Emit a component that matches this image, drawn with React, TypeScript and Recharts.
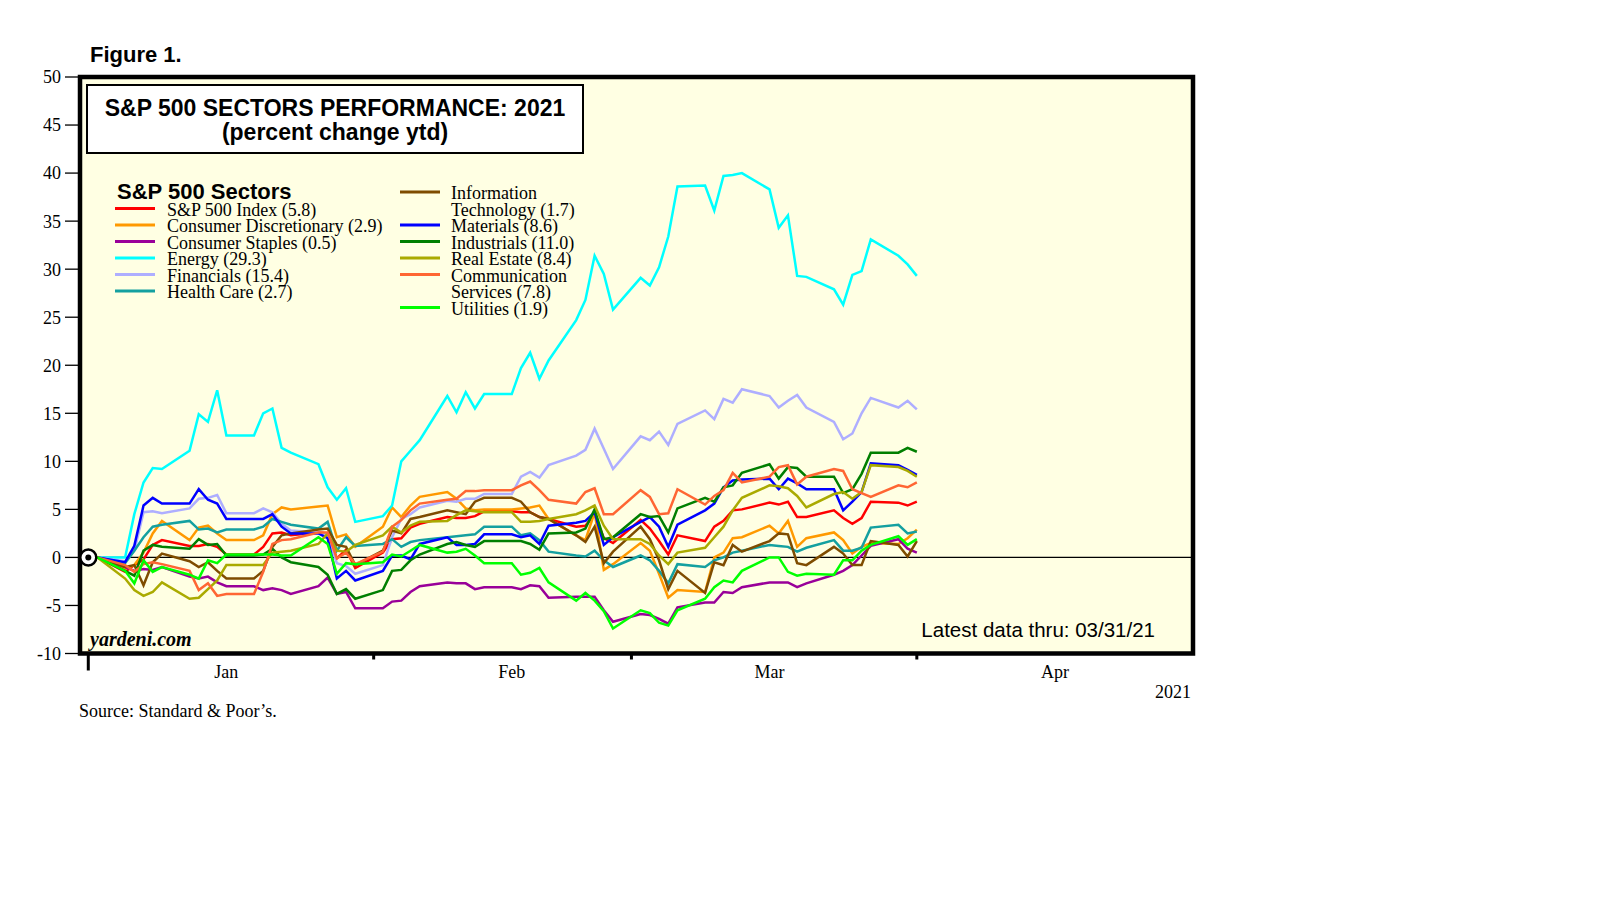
import { LineChart, Line, XAxis, YAxis, CartesianGrid, ReferenceLine, ReferenceArea } from "recharts";

const SERIF = "'Liberation Serif', 'Times New Roman', serif";
const SANS = "'Liberation Sans', Arial, sans-serif";

// days since Dec 31, 2020 (weekdays; holidays carry the prior close)
const days = [0, 1, 4, 5, 6, 7, 8, 11, 12, 13, 14, 15, 18, 19, 20, 21, 22, 25, 26, 27, 28, 29,
  32, 33, 34, 35, 36, 39, 40, 41, 42, 43, 46, 47, 48, 49, 50, 53, 54, 55, 56, 57,
  60, 61, 62, 63, 64, 67, 68, 69, 70, 71, 74, 75, 76, 77, 78, 81, 82, 83, 84, 85, 88, 89, 90];

const sp500 = [0, 0, -1.5, -0.8, -0.2, 1.3, 1.8, 1.2, 1.2, 1.4, 1.1, 0.3, 0.3, 1.1, 2.5, 2.6, 2.3, 2.6, 2.5, -0.1, 0.8, -1.1,
  0.5, 1.9, 2.0, 3.1, 3.5, 4.2, 4.1, 4.1, 4.3, 4.8, 4.8, 4.7, 4.7, 4.2, 4.0, 3.2, 3.3, 4.5, 2.0, 1.5,
  3.9, 3.0, 1.7, 0.3, 2.3, 1.7, 3.2, 3.8, 4.9, 5.0, 5.7, 5.5, 5.8, 4.2, 4.2, 4.9, 4.1, 3.5, 4.1, 5.8, 5.7, 5.4, 5.8];
const consDisc = [0, 0, -1.2, -0.8, 0.5, 2.5, 3.8, 1.8, 3.1, 3.3, 2.5, 1.8, 1.8, 2.3, 4.5, 5.2, 5.0, 5.3, 5.4, 2.1, 2.4, 1.1,
  3.2, 5.2, 4.2, 5.4, 6.3, 6.8, 6.1, 5.1, 4.9, 5.0, 5.0, 5.1, 5.2, 5.4, 4.0, 2.3, 1.8, 4.7, -1.3, -0.7,
  1.5, 0.7, -1.7, -4.2, -3.4, -3.6, 0.0, 0.5, 2.0, 2.1, 3.3, 2.5, 3.8, 1.1, 2.0, 2.6, 1.8, 0.4, 1.1, 1.5, 1.4, 2.0, 2.9];
const consStaples = [0, 0, -1.0, -1.4, -1.2, -1.3, -1.0, -2.0, -2.2, -2.0, -2.6, -3.0, -3.0, -3.4, -3.2, -3.4, -3.8, -3.0, -2.1, -3.8, -3.6, -5.3,
  -5.3, -4.6, -4.5, -3.6, -3.0, -2.6, -2.7, -2.7, -3.3, -3.1, -3.1, -3.3, -2.9, -3.0, -4.2, -4.1, -4.1, -4.1, -5.5, -6.7,
  -5.9, -6.0, -6.4, -6.9, -5.2, -4.7, -4.7, -3.6, -3.7, -3.1, -2.6, -2.6, -2.6, -3.1, -2.7, -1.8, -1.4, -0.8, 0.2, 1.2, 1.9, 0.9, 0.5];
const energy = [0, 0, 0, 4.5, 7.8, 9.3, 9.2, 11.1, 14.9, 14.1, 17.4, 12.7, 12.7, 15.0, 15.5, 11.4, 10.9, 9.7, 7.3, 6.0, 7.2, 3.7,
  4.3, 5.4, 10.0, 11.1, 12.2, 16.8, 15.1, 17.2, 15.5, 17.0, 17.0, 19.7, 21.3, 18.6, 20.5, 24.7, 26.8, 31.4, 29.5, 25.8,
  29.1, 28.3, 30.2, 33.4, 38.6, 38.7, 36.1, 39.7, 39.8, 40.0, 38.3, 34.3, 35.6, 29.3, 29.2, 27.9, 26.3, 29.4, 29.8, 33.1, 31.4, 30.5, 29.3];
const financials = [0, 0, -0.4, 0.7, 4.7, 4.8, 4.6, 5.1, 6.1, 6.2, 6.5, 4.6, 4.6, 5.1, 4.7, 3.5, 2.8, 2.6, 2.4, -0.6, -0.9, -1.7,
  -0.8, 2.1, 4.0, 4.5, 5.2, 5.9, 5.8, 6.1, 6.1, 6.6, 6.6, 8.4, 8.9, 8.3, 9.6, 10.6, 11.2, 13.4, 11.3, 9.2,
  12.6, 12.2, 13.1, 11.7, 13.9, 15.3, 14.4, 16.5, 16.1, 17.5, 16.8, 15.6, 16.3, 16.9, 15.6, 14.1, 12.3, 12.9, 15.0, 16.6, 15.6, 16.3, 15.4];
const healthCare = [0, 0, -0.6, 0.7, 2.1, 3.2, 3.4, 3.8, 2.9, 3.0, 2.6, 2.9, 2.9, 3.2, 4.0, 3.7, 3.4, 3.0, 3.7, 0.7, 2.1, 1.2,
  1.4, 1.9, 1.1, 1.6, 1.8, 2.1, 2.2, 2.3, 2.4, 3.2, 3.2, 2.3, 2.5, 1.8, 0.6, 0.2, 0.1, 0.7, -0.3, -1.0,
  0.2, -0.3, -1.4, -2.7, -0.7, -1.0, -0.3, 0.0, 0.5, 0.7, 1.3, 1.2, 1.1, 0.6, 1.0, 1.8, 0.7, 0.7, 1.0, 3.1, 3.4, 2.5, 2.7];
const infoTech = [0, 0, -1.0, -0.8, -2.9, -0.5, 0.4, -0.4, -1.0, -0.5, -1.4, -2.2, -2.2, -1.4, 1.1, 2.3, 2.5, 2.9, 3.0, 1.3, 1.1, -0.8,
  0.7, 2.8, 2.5, 4.0, 4.2, 4.9, 4.7, 4.5, 5.8, 6.2, 6.2, 5.8, 4.7, 4.2, 4.0, 2.3, 1.6, 3.2, -0.6, 0.6,
  3.2, 1.9, -0.3, -3.3, -1.4, -3.7, -0.5, -0.8, 1.3, 0.6, 1.7, 2.5, 2.4, -0.6, -0.8, 1.1, 0.4, -0.8, -0.8, 1.7, 1.3, 0.1, 1.7];
const materials = [0, 0, -0.5, 1.2, 5.4, 6.2, 5.6, 5.6, 7.1, 6.0, 5.6, 4.0, 4.0, 4.0, 4.5, 3.2, 2.5, 2.5, 2.0, -2.2, -1.4, -2.4,
  -1.4, 0.2, 0.2, -0.2, 1.4, 2.1, 1.3, 1.3, 1.4, 2.4, 2.4, 2.1, 2.3, 1.4, 3.3, 3.6, 3.8, 4.7, 1.3, 2.1,
  3.7, 4.2, 3.2, 1.1, 3.4, 4.9, 5.6, 7.3, 8.0, 8.1, 8.2, 7.1, 8.2, 7.7, 7.1, 7.1, 4.9, 5.8, 6.8, 9.8, 9.6, 9.1, 8.6];
const industrials = [0, 0, -1.4, -1.9, 0.7, 1.3, 1.1, 0.9, 1.9, 1.3, 1.4, 0.2, 0.2, 0.3, 0.9, 0.0, -0.5, -1.0, -1.8, -3.8, -3.3, -4.3,
  -3.4, -1.4, -1.3, -0.3, 0.3, 1.4, 1.6, 1.3, 1.1, 1.7, 1.7, 1.7, 1.4, 0.8, 2.5, 2.6, 3.0, 5.0, 1.9, 2.1,
  4.5, 4.2, 4.3, 2.6, 5.1, 6.2, 5.8, 7.3, 7.5, 8.8, 9.7, 8.2, 9.4, 9.3, 8.4, 8.4, 6.7, 7.1, 8.7, 10.9, 10.9, 11.4, 11.0];
const realEstate = [0, 0, -2.2, -3.4, -4.0, -3.6, -2.6, -4.3, -4.2, -3.3, -2.4, -0.8, -0.8, -0.8, 0.5, 0.6, 0.7, 1.4, 2.5, 0.7, 0.6, 1.3,
  2.3, 3.2, 2.6, 3.3, 3.7, 3.8, 4.4, 4.9, 4.8, 4.7, 4.7, 3.7, 3.7, 3.8, 4.0, 4.5, 4.9, 5.4, 3.3, 1.9,
  1.9, 1.4, 0.2, -0.7, 0.5, 1.0, 2.1, 3.2, 4.9, 6.2, 7.5, 7.4, 7.2, 6.4, 5.2, 6.6, 6.8, 6.1, 6.8, 9.6, 9.4, 9.0, 8.4];
const commServices = [0, 0, -0.8, -1.5, -0.7, -0.5, -0.7, -1.4, -3.4, -2.7, -4.0, -3.8, -3.8, -1.5, 1.4, 1.8, 1.9, 2.6, 2.6, -0.1, 0.5, -0.7,
  0.6, 3.2, 3.9, 4.9, 5.6, 6.0, 6.1, 6.9, 6.9, 7.0, 7.0, 7.5, 7.9, 7.0, 6.0, 5.6, 6.8, 7.2, 4.5, 4.5,
  7.0, 6.3, 4.5, 4.6, 7.1, 5.5, 6.4, 7.0, 8.8, 7.8, 8.4, 9.4, 9.6, 7.6, 8.4, 9.2, 9.0, 7.1, 6.7, 6.3, 7.5, 7.3, 7.8];
const utilities = [0, 0, -1.4, -2.7, -0.3, -1.5, -1.0, -1.8, -2.2, -0.3, -0.6, 0.3, 0.3, 0.3, 0.3, 0.2, 0.2, 2.1, 1.4, -1.7, -0.6, -0.7,
  -0.5, 0.3, 0.1, 0.7, 1.3, 0.5, 0.6, 0.9, 0.2, -0.6, -0.6, -1.8, -1.6, -1.1, -2.6, -4.5, -3.7, -4.5, -5.6, -7.4,
  -5.5, -5.8, -6.8, -7.1, -5.5, -4.3, -3.1, -2.4, -2.6, -1.4, 0.0, 0.0, -1.5, -1.9, -1.7, -1.8, -0.3, -0.3, 0.7, 1.3, 2.2, 1.3, 1.9];

const sectors = [
  { key: "sp500", name: "S&P 500 Index", color: "#FF0000", values: sp500 },
  { key: "consDisc", name: "Consumer Discretionary", color: "#FF9900", values: consDisc },
  { key: "consStaples", name: "Consumer Staples", color: "#990099", values: consStaples },
  { key: "energy", name: "Energy", color: "#00FFFF", values: energy },
  { key: "financials", name: "Financials", color: "#AEAEFF", values: financials },
  { key: "healthCare", name: "Health Care", color: "#14A0A0", values: healthCare },
  { key: "infoTech", name: "Information\nTechnology", color: "#7F4C00", values: infoTech },
  { key: "materials", name: "Materials", color: "#0000FF", values: materials },
  { key: "industrials", name: "Industrials", color: "#007F00", values: industrials },
  { key: "realEstate", name: "Real Estate", color: "#AAAA00", values: realEstate },
  { key: "commServices", name: "Communication\nServices", color: "#FF6633", values: commServices },
  { key: "utilities", name: "Utilities", color: "#00FF00", values: utilities },
];

// legend rows: [key, row]
const legendLeft = [["sp500", 1], ["consDisc", 2], ["consStaples", 3], ["energy", 4], ["financials", 5], ["healthCare", 6]];
const legendRight = [["infoTech", 0], ["materials", 2], ["industrials", 3], ["realEstate", 4], ["commServices", 5], ["utilities", 7]];

const monthStarts = [0, 31, 59, 90];
const monthMids = [15, 46, 74, 105];
const monthLabels = ["Jan", "Feb", "Mar", "Apr"];
const yTicks = [-10, -5, 0, 5, 10, 15, 20, 25, 30, 35, 40, 45, 50];

const rows = days.map((d, i) => {
  const r: any = { day: d };
  sectors.forEach((s) => { r[s.key] = s.values[i]; });
  return r;
});

const MonthTick = (props: any) => {
  const { x, y, payload } = props;
  const v = payload.value;
  if (monthStarts.includes(v)) {
    return <line x1={x} x2={x} y1={y} y2={y + (v === 0 ? 17 : 6)} stroke="#000" strokeWidth={3} />;
  }
  const i = monthMids.indexOf(v);
  return (
    <text x={x} y={y + 24.5} textAnchor="middle" fontFamily={SERIF} fontSize={18} fill="#000">
      {monthLabels[i]}
    </text>
  );
};

const StartDot = (props: any) => {
  if (props.index !== 0) return <g key={`d-${props.index}`} />;
  return (
    <g key="start">
      <circle cx={props.cx} cy={props.cy} r={8} fill="#fff" stroke="#000" strokeWidth={2.5} />
      <circle cx={props.cx} cy={props.cy} r={3} fill="#000" />
    </g>
  );
};

function LegendItem({ k, row, lineX, textX }: { k: string; row: number; lineX: number; textX: number }) {
  const s = sectors.find((q) => q.key === k)!;
  const last = s.values[s.values.length - 1].toFixed(1);
  const lines = s.name.split("\n");
  lines[lines.length - 1] += ` (${last})`;
  const base = 191 + 16.5 * row;
  return (
    <g>
      <line x1={lineX} x2={lineX + 40} y1={base - 7} y2={base - 7} stroke={s.color} strokeWidth={3} />
      {lines.map((t, i) => (
        <text key={i} x={textX} y={base + 16.5 * i} fontFamily={SERIF} fontSize={18} fill="#000">{t}</text>
      ))}
    </g>
  );
}

export default function App() {
  return (
    <div style={{ position: "relative", width: 1594, height: 720 }}>
      <LineChart width={1594} height={720} data={rows} margin={{ top: 69, right: 349, bottom: 44.5, left: 0 }}>
        <CartesianGrid horizontal={false} vertical={false} fill="#FFFFE3" />
        <XAxis
          dataKey="day"
          type="number"
          domain={[-0.9, 120]}
          allowDataOverflow
          ticks={[0, 15, 31, 46, 59, 74, 90, 105]}
          interval={0}
          tickLine={false}
          axisLine={false}
          tickSize={0}
          tickMargin={0}
          height={30}
          tick={MonthTick}
        />
        <YAxis
          yAxisId="left"
          orientation="left"
          width={72}
          domain={[-10, 50]}
          ticks={yTicks}
          interval={0}
          axisLine={false}
          tickSize={15}
          tickMargin={4}
          tickLine={{ stroke: "#000", strokeWidth: 1.3 }}
          tick={{ fill: "#000", fontSize: 18, fontFamily: SERIF }}
        />
        <YAxis
          yAxisId="right"
          orientation="right"
          width={60}
          domain={[-10, 50]}
          ticks={yTicks}
          interval={0}
          axisLine={false}
          tickSize={12}
          tickMargin={6}
          tickLine={{ stroke: "#000", strokeWidth: 1.3 }}
          tick={{ fill: "#000", fontSize: 18, fontFamily: SERIF }}
        />
        <ReferenceLine yAxisId="left" y={0} stroke="#000" strokeWidth={1.3} />
        {sectors.map((s, i) => (
          <Line
            key={s.key}
            yAxisId="left"
            type="linear"
            dataKey={s.key}
            stroke={s.color}
            strokeWidth={2.5}
            dot={i === sectors.length - 1 ? StartDot : false}
            activeDot={false}
            isAnimationActive={false}
          />
        ))}
        <ReferenceArea yAxisId="left" x1={-0.9} x2={120} y1={-10} y2={50} fill="none" stroke="#000" strokeWidth={4.5} />
      </LineChart>
      <svg width={1594} height={720} style={{ position: "absolute", left: 0, top: 0, pointerEvents: "none" }}>
        <text x={82} y={53.7} fontFamily={SANS} fontWeight="bold" fontSize={22} fill="#000">Figure 1.</text>
        <rect x={79} y={77} width={496} height={68} fill="#fff" stroke="#000" strokeWidth={2} />
        <text x={327} y={108} textAnchor="middle" fontFamily={SANS} fontWeight="bold" fontSize={23} fill="#000">
          S&amp;P 500 SECTORS PERFORMANCE: 2021
        </text>
        <text x={327} y={131.5} textAnchor="middle" fontFamily={SANS} fontWeight="bold" fontSize={23} fill="#000">
          (percent change ytd)
        </text>
        <text x={109} y={191} fontFamily={SANS} fontWeight="bold" fontSize={22} fill="#000">S&amp;P 500 Sectors</text>
        {legendLeft.map(([k, r]) => (
          <LegendItem key={k as string} k={k as string} row={r as number} lineX={107} textX={159} />
        ))}
        {legendRight.map(([k, r]) => (
          <LegendItem key={k as string} k={k as string} row={r as number} lineX={392} textX={443} />
        ))}
        <text x={82} y={638} fontFamily={SERIF} fontStyle="italic" fontWeight="bold" fontSize={20} fill="#000">yardeni.com</text>
        <text x={1147} y={629} textAnchor="end" fontFamily={SANS} fontSize={20.5} fill="#000">Latest data thru: 03/31/21</text>
        <text x={1183} y={690} textAnchor="end" fontFamily={SERIF} fontSize={18} fill="#000">2021</text>
        <text x={71} y={709} fontFamily={SERIF} fontSize={18} fill="#000">Source: Standard &amp; Poor’s.</text>
      </svg>
    </div>
  );
}
